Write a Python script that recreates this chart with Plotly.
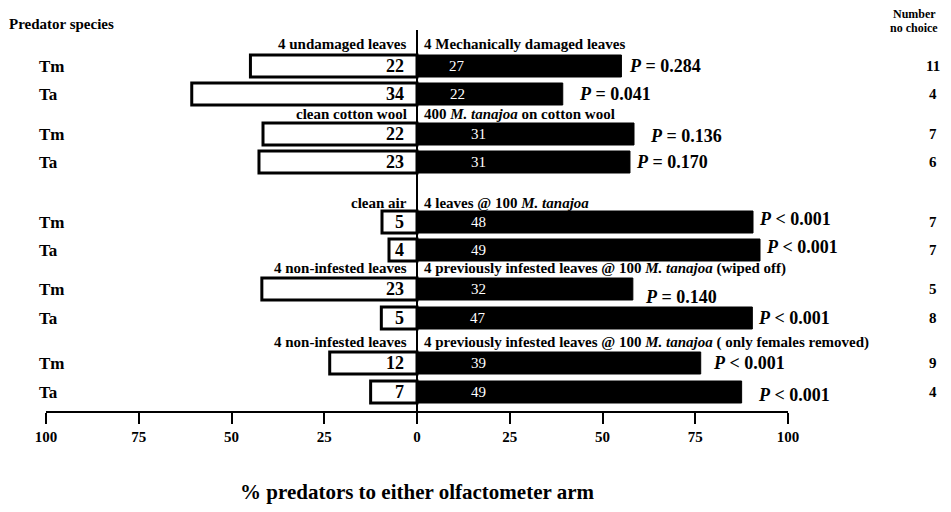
import plotly.graph_objects as go

# ---------------- data ----------------
species = ["Tm", "Ta", "Tm", "Ta", "Tm", "Ta", "Tm", "Ta", "Tm", "Ta"]
left_counts = [22, 34, 22, 23, 5, 4, 23, 5, 12, 7]
right_counts = [27, 22, 31, 31, 48, 49, 32, 47, 39, 49]
p_values = ["= 0.284", "= 0.041", "= 0.136", "= 0.170", "< 0.001",
            "< 0.001", "= 0.140", "< 0.001", "< 0.001", "< 0.001"]
no_choice = [11, 4, 7, 6, 7, 7, 5, 8, 9, 4]
left_arm = ["4 undamaged leaves", "clean cotton wool", "clean air",
            "4 non-infested leaves", "4 non-infested leaves"]
right_arm = ["4 Mechanically damaged leaves",
             "400 <i>M. tanajoa</i> on cotton wool",
             "4 leaves @ 100 <i>M. tanajoa</i>",
             "4 previously infested leaves @ 100 <i>M. tanajoa</i> (wiped off)",
             "4 previously infested leaves @ 100 <i>M. tanajoa</i> ( only females removed)"]
tick_vals = [-100, -75, -50, -25, 0, 25, 50, 75, 100]
tick_text = ["100", "75", "50", "25", "0", "25", "50", "75", "100"]

left_pct = [l / (l + r) * 100 for l, r in zip(left_counts, right_counts)]
right_pct = [r / (l + r) * 100 for l, r in zip(left_counts, right_counts)]

# ---------------- layout constants ----------------
ROW_Y = [66, 94, 134, 162, 222, 250, 289, 318, 363, 392]
HEADER_Y = [44, 114, 203, 268, 342]
RIGHT_LABEL_DX = [40, 40, 61, 61, 61, 61, 61, 61, 61, 61]
P_DX = [6, 14, 14, 4, 4, 4, 10, 4, 10, 14]
P_DY = [0, 0, 2, 0, -3, -3, 8, 0, 0, 3]
FONT = "Liberation Serif, Times New Roman, serif"
OFF = 8                      # page body margin
W, H = 951 - OFF, 512 - 2 * OFF
ML, MR, MT = 38, 163, 0
MB = H - (411 - OFF)
PW = W - ML - MR

def px(xpage):
    return (xpage - OFF - ML) / PW

fig = go.Figure()
fig.add_trace(go.Bar(
    y=ROW_Y, x=[-p for p in left_pct], orientation="h", width=22,
    marker=dict(color="white", line=dict(color="black", width=3)),
    hoverinfo="skip", showlegend=False))
fig.add_trace(go.Bar(
    y=ROW_Y, x=right_pct, orientation="h", width=22,
    marker=dict(color="black", line=dict(color="black", width=1)),
    hoverinfo="skip", showlegend=False))

ann = []
bold = lambda s, c="black": dict(family=FONT, size=s, color=c, weight="bold")
for i, y in enumerate(ROW_Y):
    ann.append(dict(x=0, y=y, xref="x", yref="y", text=str(left_counts[i]),
                    xanchor="right", xshift=-11, showarrow=False, font=bold(18)))
    ann.append(dict(x=0, y=y, xref="x", yref="y", text=str(right_counts[i]),
                    xanchor="center", xshift=RIGHT_LABEL_DX[i], showarrow=False,
                    font=dict(family=FONT, size=15, color="white")))
    ann.append(dict(x=right_pct[i], y=y + P_DY[i], xref="x", yref="y",
                    text="<i>P</i> " + p_values[i], xanchor="left", xshift=P_DX[i],
                    showarrow=False, font=bold(18)))
    ann.append(dict(x=px(933), y=y, xref="paper", yref="y", text=str(no_choice[i]),
                    xanchor="center", showarrow=False, font=bold(15)))
    ann.append(dict(x=px(37), y=y, xref="paper", yref="y", text=species[i],
                    xanchor="left", showarrow=False, font=bold(17)))
for g, y in enumerate(HEADER_Y):
    ann.append(dict(x=0, y=y, xref="x", yref="y", text=left_arm[g],
                    xanchor="right", xshift=-8, showarrow=False, font=bold(15)))
    ann.append(dict(x=0, y=y, xref="x", yref="y", text=right_arm[g],
                    xanchor="left", xshift=5, showarrow=False, font=bold(15)))
ann.append(dict(x=px(7), y=24, xref="paper", yref="y", text="Predator species",
                xanchor="left", showarrow=False, font=bold(15)))
ann.append(dict(x=px(914), y=14, xref="paper", yref="y", text="Number",
                xanchor="center", showarrow=False, font=bold(12)))
ann.append(dict(x=px(914), y=28, xref="paper", yref="y", text="no choice",
                xanchor="center", showarrow=False, font=bold(12)))

fig.update_layout(
    width=W, height=H, margin=dict(l=ML, r=MR, t=MT, b=MB, autoexpand=False),
    plot_bgcolor="white", paper_bgcolor="white", barmode="overlay",
    annotations=ann,
    shapes=[dict(type="line", xref="x", yref="y", x0=0, x1=0, y0=30, y1=411,
                 line=dict(color="black", width=2), layer="above")],
    xaxis=dict(range=[-100, 100], tickvals=tick_vals, ticktext=tick_text,
               showgrid=False, zeroline=False, showline=True, linecolor="black",
               linewidth=2, ticks="outside", ticklen=11, tickwidth=2,
               tickcolor="black", tickfont=bold(15), fixedrange=True,
               automargin=False,
               title=dict(text="% predators to either olfactometer arm",
                          font=bold(21), standoff=46)),
    yaxis=dict(range=[411, OFF], visible=False, fixedrange=True, automargin=False),
)
fig.write_html("out.html")
